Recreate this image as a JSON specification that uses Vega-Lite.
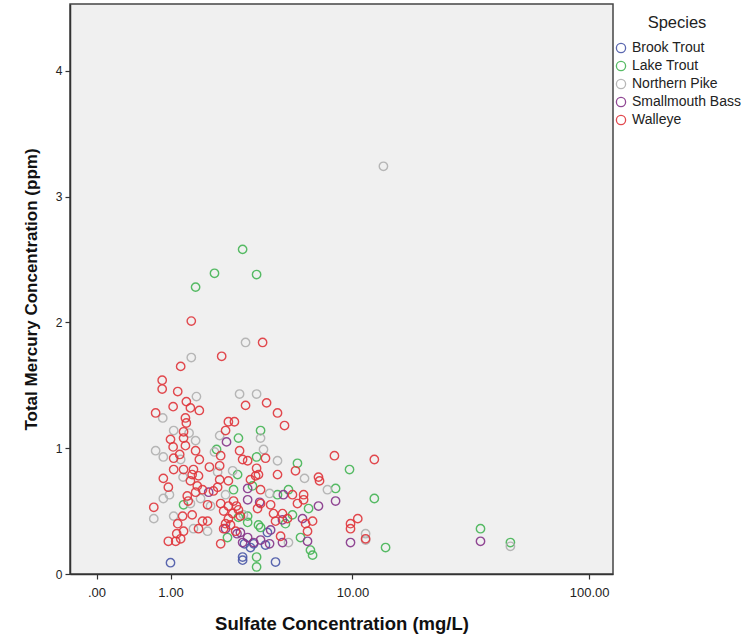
{
  "$schema": "https://vega.github.io/schema/vega-lite/v6.json",
  "autosize": {"type": "none"},
  "width": 543,
  "height": 570,
  "padding": {"left": 70, "top": 4, "right": 134, "bottom": 65},
  "background": "white",
  "config": {
    "font": "Liberation Sans",
    "view": {"fill": "#f0f0f0", "stroke": "#444444", "strokeWidth": 1.5}
  },
  "data": {"values": [
    {"species":"Brook Trout","sulfate":1.00,"mercury":0.09},
    {"species":"Brook Trout","sulfate":2.93,"mercury":0.135},
    {"species":"Brook Trout","sulfate":2.93,"mercury":0.11},
    {"species":"Brook Trout","sulfate":4.35,"mercury":0.095},
    {"species":"Brook Trout","sulfate":3.36,"mercury":0.24},
    {"species":"Brook Trout","sulfate":3.87,"mercury":0.23},
    {"species":"Brook Trout","sulfate":3.96,"mercury":0.33},
    {"species":"Brook Trout","sulfate":3.23,"mercury":0.21},
    {"species":"Brook Trout","sulfate":3.00,"mercury":0.24},
    {"species":"Lake Trout","sulfate":2.93,"mercury":2.58},
    {"species":"Lake Trout","sulfate":2.02,"mercury":2.39},
    {"species":"Lake Trout","sulfate":3.48,"mercury":2.38},
    {"species":"Lake Trout","sulfate":1.53,"mercury":2.28},
    {"species":"Lake Trout","sulfate":3.65,"mercury":1.14},
    {"species":"Lake Trout","sulfate":3.48,"mercury":0.93},
    {"species":"Lake Trout","sulfate":5.57,"mercury":0.88},
    {"species":"Lake Trout","sulfate":9.7,"mercury":0.83},
    {"species":"Lake Trout","sulfate":8.39,"mercury":0.68},
    {"species":"Lake Trout","sulfate":12.5,"mercury":0.60},
    {"species":"Lake Trout","sulfate":2.78,"mercury":1.08},
    {"species":"Lake Trout","sulfate":2.08,"mercury":0.99},
    {"species":"Lake Trout","sulfate":2.75,"mercury":0.79},
    {"species":"Lake Trout","sulfate":4.45,"mercury":0.63},
    {"species":"Lake Trout","sulfate":5.04,"mercury":0.67},
    {"species":"Lake Trout","sulfate":1.26,"mercury":0.55},
    {"species":"Lake Trout","sulfate":2.78,"mercury":0.45},
    {"species":"Lake Trout","sulfate":3.12,"mercury":0.41},
    {"species":"Lake Trout","sulfate":5.27,"mercury":0.47},
    {"species":"Lake Trout","sulfate":6.29,"mercury":0.52},
    {"species":"Lake Trout","sulfate":3.65,"mercury":0.37},
    {"species":"Lake Trout","sulfate":2.41,"mercury":0.29},
    {"species":"Lake Trout","sulfate":5.76,"mercury":0.29},
    {"species":"Lake Trout","sulfate":6.42,"mercury":0.19},
    {"species":"Lake Trout","sulfate":6.57,"mercury":0.15},
    {"species":"Lake Trout","sulfate":3.48,"mercury":0.135},
    {"species":"Lake Trout","sulfate":3.48,"mercury":0.056},
    {"species":"Lake Trout","sulfate":14.0,"mercury":0.21},
    {"species":"Lake Trout","sulfate":35.5,"mercury":0.36},
    {"species":"Lake Trout","sulfate":47.3,"mercury":0.25},
    {"species":"Lake Trout","sulfate":3.31,"mercury":0.70},
    {"species":"Lake Trout","sulfate":2.61,"mercury":0.67},
    {"species":"Lake Trout","sulfate":3.12,"mercury":0.46},
    {"species":"Lake Trout","sulfate":3.56,"mercury":0.39},
    {"species":"Lake Trout","sulfate":4.87,"mercury":0.40},
    {"species":"Northern Pike","sulfate":13.7,"mercury":3.24},
    {"species":"Northern Pike","sulfate":3.04,"mercury":1.84},
    {"species":"Northern Pike","sulfate":1.43,"mercury":1.72},
    {"species":"Northern Pike","sulfate":1.55,"mercury":1.41},
    {"species":"Northern Pike","sulfate":2.82,"mercury":1.43},
    {"species":"Northern Pike","sulfate":3.48,"mercury":1.43},
    {"species":"Northern Pike","sulfate":0.86,"mercury":1.24},
    {"species":"Northern Pike","sulfate":1.06,"mercury":1.14},
    {"species":"Northern Pike","sulfate":1.38,"mercury":1.12},
    {"species":"Northern Pike","sulfate":2.17,"mercury":1.10},
    {"species":"Northern Pike","sulfate":0.74,"mercury":0.98},
    {"species":"Northern Pike","sulfate":0.87,"mercury":0.93},
    {"species":"Northern Pike","sulfate":1.20,"mercury":0.91},
    {"species":"Northern Pike","sulfate":2.11,"mercury":0.81},
    {"species":"Northern Pike","sulfate":3.65,"mercury":1.08},
    {"species":"Northern Pike","sulfate":3.78,"mercury":0.99},
    {"species":"Northern Pike","sulfate":4.45,"mercury":0.90},
    {"species":"Northern Pike","sulfate":6.02,"mercury":0.76},
    {"species":"Northern Pike","sulfate":7.70,"mercury":0.67},
    {"species":"Northern Pike","sulfate":4.06,"mercury":0.64},
    {"species":"Northern Pike","sulfate":0.87,"mercury":0.60},
    {"species":"Northern Pike","sulfate":0.98,"mercury":0.63},
    {"species":"Northern Pike","sulfate":1.65,"mercury":0.60},
    {"species":"Northern Pike","sulfate":0.71,"mercury":0.44},
    {"species":"Northern Pike","sulfate":1.06,"mercury":0.46},
    {"species":"Northern Pike","sulfate":1.48,"mercury":0.36},
    {"species":"Northern Pike","sulfate":1.83,"mercury":0.34},
    {"species":"Northern Pike","sulfate":2.96,"mercury":0.47},
    {"species":"Northern Pike","sulfate":5.04,"mercury":0.25},
    {"species":"Northern Pike","sulfate":11.44,"mercury":0.32},
    {"species":"Northern Pike","sulfate":11.44,"mercury":0.27},
    {"species":"Northern Pike","sulfate":47.3,"mercury":0.22},
    {"species":"Northern Pike","sulfate":1.91,"mercury":0.54},
    {"species":"Northern Pike","sulfate":2.58,"mercury":0.82},
    {"species":"Northern Pike","sulfate":1.53,"mercury":1.06},
    {"species":"Northern Pike","sulfate":2.35,"mercury":0.63},
    {"species":"Northern Pike","sulfate":2.02,"mercury":0.97},
    {"species":"Northern Pike","sulfate":1.25,"mercury":0.77},
    {"species":"Northern Pike","sulfate":1.41,"mercury":0.56},
    {"species":"Smallmouth Bass","sulfate":2.38,"mercury":1.05},
    {"species":"Smallmouth Bass","sulfate":3.12,"mercury":0.68},
    {"species":"Smallmouth Bass","sulfate":1.86,"mercury":0.65},
    {"species":"Smallmouth Bass","sulfate":2.85,"mercury":0.33},
    {"species":"Smallmouth Bass","sulfate":3.12,"mercury":0.29},
    {"species":"Smallmouth Bass","sulfate":2.93,"mercury":0.25},
    {"species":"Smallmouth Bass","sulfate":3.36,"mercury":0.25},
    {"species":"Smallmouth Bass","sulfate":4.76,"mercury":0.63},
    {"species":"Smallmouth Bass","sulfate":4.71,"mercury":0.43},
    {"species":"Smallmouth Bass","sulfate":5.89,"mercury":0.44},
    {"species":"Smallmouth Bass","sulfate":4.71,"mercury":0.25},
    {"species":"Smallmouth Bass","sulfate":3.65,"mercury":0.27},
    {"species":"Smallmouth Bass","sulfate":6.22,"mercury":0.26},
    {"species":"Smallmouth Bass","sulfate":8.39,"mercury":0.58},
    {"species":"Smallmouth Bass","sulfate":7.00,"mercury":0.54},
    {"species":"Smallmouth Bass","sulfate":9.80,"mercury":0.25},
    {"species":"Smallmouth Bass","sulfate":35.5,"mercury":0.26},
    {"species":"Smallmouth Bass","sulfate":4.11,"mercury":0.35},
    {"species":"Smallmouth Bass","sulfate":3.12,"mercury":0.59},
    {"species":"Smallmouth Bass","sulfate":3.61,"mercury":0.57},
    {"species":"Smallmouth Bass","sulfate":4.06,"mercury":0.24},
    {"species":"Smallmouth Bass","sulfate":2.35,"mercury":0.36},
    {"species":"Smallmouth Bass","sulfate":2.73,"mercury":0.32},
    {"species":"Walleye","sulfate":1.43,"mercury":2.01},
    {"species":"Walleye","sulfate":3.74,"mercury":1.84},
    {"species":"Walleye","sulfate":2.23,"mercury":1.73},
    {"species":"Walleye","sulfate":1.20,"mercury":1.65},
    {"species":"Walleye","sulfate":0.85,"mercury":1.54},
    {"species":"Walleye","sulfate":0.85,"mercury":1.47},
    {"species":"Walleye","sulfate":1.14,"mercury":1.45},
    {"species":"Walleye","sulfate":1.32,"mercury":1.37},
    {"species":"Walleye","sulfate":3.04,"mercury":1.34},
    {"species":"Walleye","sulfate":3.92,"mercury":1.36},
    {"species":"Walleye","sulfate":1.05,"mercury":1.33},
    {"species":"Walleye","sulfate":1.41,"mercury":1.32},
    {"species":"Walleye","sulfate":1.62,"mercury":1.30},
    {"species":"Walleye","sulfate":0.74,"mercury":1.28},
    {"species":"Walleye","sulfate":4.45,"mercury":1.28},
    {"species":"Walleye","sulfate":1.30,"mercury":1.24},
    {"species":"Walleye","sulfate":1.32,"mercury":1.20},
    {"species":"Walleye","sulfate":4.82,"mercury":1.18},
    {"species":"Walleye","sulfate":2.44,"mercury":1.21},
    {"species":"Walleye","sulfate":2.64,"mercury":1.21},
    {"species":"Walleye","sulfate":2.35,"mercury":1.14},
    {"species":"Walleye","sulfate":1.26,"mercury":1.13},
    {"species":"Walleye","sulfate":1.00,"mercury":1.07},
    {"species":"Walleye","sulfate":1.05,"mercury":1.01},
    {"species":"Walleye","sulfate":1.26,"mercury":1.08},
    {"species":"Walleye","sulfate":1.30,"mercury":1.02},
    {"species":"Walleye","sulfate":1.53,"mercury":0.98},
    {"species":"Walleye","sulfate":1.06,"mercury":0.92},
    {"species":"Walleye","sulfate":1.18,"mercury":0.95},
    {"species":"Walleye","sulfate":1.62,"mercury":0.91},
    {"species":"Walleye","sulfate":2.82,"mercury":0.98},
    {"species":"Walleye","sulfate":2.93,"mercury":0.91},
    {"species":"Walleye","sulfate":3.12,"mercury":0.90},
    {"species":"Walleye","sulfate":2.20,"mercury":0.94},
    {"species":"Walleye","sulfate":1.06,"mercury":0.83},
    {"species":"Walleye","sulfate":1.26,"mercury":0.83},
    {"species":"Walleye","sulfate":1.48,"mercury":0.83},
    {"species":"Walleye","sulfate":1.45,"mercury":0.79},
    {"species":"Walleye","sulfate":1.60,"mercury":0.78},
    {"species":"Walleye","sulfate":1.88,"mercury":0.85},
    {"species":"Walleye","sulfate":2.17,"mercury":0.86},
    {"species":"Walleye","sulfate":0.87,"mercury":0.76},
    {"species":"Walleye","sulfate":0.96,"mercury":0.69},
    {"species":"Walleye","sulfate":1.41,"mercury":0.74},
    {"species":"Walleye","sulfate":1.57,"mercury":0.70},
    {"species":"Walleye","sulfate":1.53,"mercury":0.65},
    {"species":"Walleye","sulfate":1.70,"mercury":0.67},
    {"species":"Walleye","sulfate":2.17,"mercury":0.75},
    {"species":"Walleye","sulfate":2.11,"mercury":0.69},
    {"species":"Walleye","sulfate":2.44,"mercury":0.74},
    {"species":"Walleye","sulfate":3.23,"mercury":0.75},
    {"species":"Walleye","sulfate":3.44,"mercury":0.78},
    {"species":"Walleye","sulfate":1.34,"mercury":0.62},
    {"species":"Walleye","sulfate":1.36,"mercury":0.58},
    {"species":"Walleye","sulfate":1.83,"mercury":0.55},
    {"species":"Walleye","sulfate":2.20,"mercury":0.56},
    {"species":"Walleye","sulfate":2.29,"mercury":0.50},
    {"species":"Walleye","sulfate":2.44,"mercury":0.54},
    {"species":"Walleye","sulfate":2.58,"mercury":0.48},
    {"species":"Walleye","sulfate":2.44,"mercury":0.44},
    {"species":"Walleye","sulfate":0.71,"mercury":0.53},
    {"species":"Walleye","sulfate":1.24,"mercury":0.46},
    {"species":"Walleye","sulfate":1.45,"mercury":0.47},
    {"species":"Walleye","sulfate":1.70,"mercury":0.42},
    {"species":"Walleye","sulfate":1.60,"mercury":0.36},
    {"species":"Walleye","sulfate":1.83,"mercury":0.42},
    {"species":"Walleye","sulfate":1.14,"mercury":0.40},
    {"species":"Walleye","sulfate":1.26,"mercury":0.34},
    {"species":"Walleye","sulfate":1.12,"mercury":0.32},
    {"species":"Walleye","sulfate":2.29,"mercury":0.36},
    {"species":"Walleye","sulfate":2.35,"mercury":0.40},
    {"species":"Walleye","sulfate":0.96,"mercury":0.26},
    {"species":"Walleye","sulfate":1.10,"mercury":0.26},
    {"species":"Walleye","sulfate":1.20,"mercury":0.28},
    {"species":"Walleye","sulfate":2.20,"mercury":0.24},
    {"species":"Walleye","sulfate":3.87,"mercury":0.92},
    {"species":"Walleye","sulfate":3.48,"mercury":0.84},
    {"species":"Walleye","sulfate":3.56,"mercury":0.79},
    {"species":"Walleye","sulfate":4.45,"mercury":0.79},
    {"species":"Walleye","sulfate":5.45,"mercury":0.82},
    {"species":"Walleye","sulfate":7.00,"mercury":0.77},
    {"species":"Walleye","sulfate":7.08,"mercury":0.74},
    {"species":"Walleye","sulfate":8.29,"mercury":0.94},
    {"species":"Walleye","sulfate":12.5,"mercury":0.91},
    {"species":"Walleye","sulfate":3.65,"mercury":0.67},
    {"species":"Walleye","sulfate":5.96,"mercury":0.63},
    {"species":"Walleye","sulfate":5.96,"mercury":0.59},
    {"species":"Walleye","sulfate":5.57,"mercury":0.56},
    {"species":"Walleye","sulfate":5.27,"mercury":0.63},
    {"species":"Walleye","sulfate":3.65,"mercury":0.56},
    {"species":"Walleye","sulfate":3.52,"mercury":0.52},
    {"species":"Walleye","sulfate":4.11,"mercury":0.55},
    {"species":"Walleye","sulfate":4.25,"mercury":0.48},
    {"species":"Walleye","sulfate":4.71,"mercury":0.48},
    {"species":"Walleye","sulfate":4.35,"mercury":0.42},
    {"species":"Walleye","sulfate":4.98,"mercury":0.44},
    {"species":"Walleye","sulfate":6.09,"mercury":0.40},
    {"species":"Walleye","sulfate":6.57,"mercury":0.42},
    {"species":"Walleye","sulfate":6.22,"mercury":0.34},
    {"species":"Walleye","sulfate":4.61,"mercury":0.30},
    {"species":"Walleye","sulfate":9.80,"mercury":0.40},
    {"species":"Walleye","sulfate":10.56,"mercury":0.44},
    {"species":"Walleye","sulfate":9.80,"mercury":0.36},
    {"species":"Walleye","sulfate":11.44,"mercury":0.28},
    {"species":"Walleye","sulfate":2.71,"mercury":0.54},
    {"species":"Walleye","sulfate":2.85,"mercury":0.46},
    {"species":"Walleye","sulfate":2.61,"mercury":0.58},
    {"species":"Walleye","sulfate":1.99,"mercury":0.66},
    {"species":"Walleye","sulfate":2.68,"mercury":0.34},
    {"species":"Walleye","sulfate":2.51,"mercury":0.39},
    {"species":"Walleye","sulfate":2.78,"mercury":0.51}
  ]},
  "mark": {"type": "point", "shape": "circle", "filled": false, "size": 70, "strokeWidth": 1.4, "opacity": 0.9},
  "encoding": {
    "x": {
      "field": "sulfate", "type": "quantitative",
      "scale": {"type": "symlog", "constant": 1, "domain": [-0.282, 125.3], "nice": false, "zero": false},
      "axis": {
        "values": [0, 1, 10, 100],
        "labelExpr": "datum.value == 0 ? '.00' : format(datum.value, '.2f')",
        "title": "Sulfate Concentration (mg/L)",
        "titleFont": "Liberation Sans", "titleFontSize": 18.5, "titleFontWeight": "bold", "titleColor": "#111111",
        "titlePadding": 15,
        "labelFont": "Liberation Sans", "labelFontSize": 13, "labelColor": "#222222", "labelPadding": 7,
        "tickSize": 5, "tickColor": "#333333", "domainColor": "#333333", "domainWidth": 1.5, "tickWidth": 1.2,
        "grid": false, "labelFlush": false
      }
    },
    "y": {
      "field": "mercury", "type": "quantitative",
      "scale": {"domain": [0, 4.53], "nice": false, "zero": true},
      "axis": {
        "values": [0, 1, 2, 3, 4],
        "format": "d",
        "title": "Total Mercury Concentration (ppm)",
        "titleFont": "Liberation Sans", "titleFontSize": 17, "titleFontWeight": "bold", "titleColor": "#111111",
        "titlePadding": 15,
        "labelFont": "Liberation Sans", "labelFontSize": 12, "labelColor": "#222222", "labelPadding": 3,
        "tickSize": 5, "tickColor": "#333333", "domainColor": "#333333", "domainWidth": 1.5, "tickWidth": 1.2,
        "grid": false, "labelFlush": false
      }
    },
    "color": {
      "field": "species", "type": "nominal",
      "scale": {
        "domain": ["Brook Trout", "Lake Trout", "Northern Pike", "Smallmouth Bass", "Walleye"],
        "range": ["#4a58a8", "#45b555", "#b0b0b0", "#86358a", "#e0363c"]
      },
      "legend": {
        "title": "Species",
        "orient": "none", "legendX": 544, "legendY": 10.5,
        "titleFont": "Liberation Sans", "titleFontSize": 16.5, "titleFontWeight": "normal", "titleColor": "#222222",
        "titleAnchor": "middle", "titlePadding": 10,
        "labelFont": "Liberation Sans", "labelFontSize": 14, "labelColor": "#222222", "labelOffset": 4,
        "symbolType": "circle", "symbolSize": 85, "symbolStrokeWidth": 1.3, "symbolFillColor": "transparent",
        "rowPadding": 2
      }
    }
  }
}
